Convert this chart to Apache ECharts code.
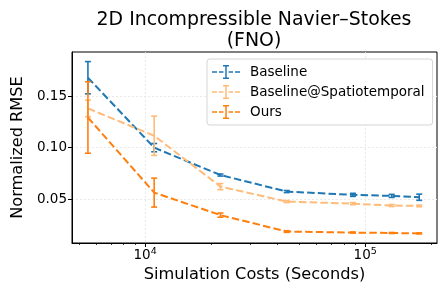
<!DOCTYPE html>
<html>
<head>
<meta charset="utf-8">
<script src="https://cdn.jsdelivr.net/npm/echarts@6/dist/echarts.min.js"></script>
<style>html,body{margin:0;padding:0;background:#fff}#c{width:448px;height:299px}</style>
</head>
<body>
<div id="c"></div>
<script>
// Data
const costs = [5500, 11000, 22000, 44000, 88000, 132000, 176000];
const baselineMean = [0.1677, 0.1000, 0.0735, 0.0575, 0.0543, 0.0533, 0.0520];
const baselineErr  = [0.0156, 0.0040, 0.0010, 0.0010, 0.0015, 0.0015, 0.0030];
const spatioMean   = [0.1380, 0.1115, 0.0623, 0.0478, 0.0458, 0.0440, 0.0436];
const spatioErr    = [0.0080, 0.0190, 0.0030, 0.0010, 0.0010, 0.0010, 0.0008];
const oursMean     = [0.1292, 0.0565, 0.0347, 0.0188, 0.0178, 0.0174, 0.0170];
const oursErr      = [0.0346, 0.0140, 0.0020, 0.0008, 0.0005, 0.0005, 0.0005];
const yTicks = [0.05, 0.10, 0.15];
const xMajorTicks = [10000, 100000];
const xMinorTicks = [5000, 6000, 7000, 8000, 9000, 20000, 30000, 40000, 50000, 60000, 70000, 80000, 90000, 200000];
const seriesNames = ['Baseline', 'Baseline@Spatiotemporal', 'Ours'];
const colors = ['#1f77b4', '#ffbb78', '#ff7f0e'];

const FONT = 'DejaVu Sans';
const chart = echarts.init(document.getElementById('c'), null, {renderer: 'canvas'});

function pairs(m) { return costs.map((x, i) => [x, m[i]]); }
function triples(m, e) { return costs.map((x, i) => [x, m[i], e[i]]); }

function errRender(params, api) {
  const x = api.value(0), y = api.value(1), e = api.value(2);
  const t = api.coord([x, y + e]), b = api.coord([x, y - e]);
  const color = api.visual('color');
  const cw = 3;
  const st = {stroke: color, lineWidth: 1.6};
  return {type: 'group', children: [
    {type: 'line', shape: {x1: t[0], y1: t[1], x2: b[0], y2: b[1]}, style: st},
    {type: 'line', shape: {x1: t[0] - cw, y1: t[1], x2: t[0] + cw, y2: t[1]}, style: st},
    {type: 'line', shape: {x1: b[0] - cw, y1: b[1], x2: b[0] + cw, y2: b[1]}, style: st}
  ]};
}

const means = [baselineMean, spatioMean, oursMean];
const errs = [baselineErr, spatioErr, oursErr];
const series = [];
seriesNames.forEach((name, i) => {
  series.push({
    name: name, type: 'line', data: pairs(means[i]), symbol: 'none',
    lineStyle: {color: colors[i], width: 2, type: [7.5, 3.2]},
    itemStyle: {color: colors[i]}, z: 2 + i * 2, animation: false, silent: true
  });
  series.push({
    name: name + ' err', type: 'custom', data: triples(means[i], errs[i]),
    renderItem: errRender, encode: {x: 0, y: 1},
    itemStyle: {color: colors[i]}, z: 3 + i * 2, animation: false, silent: true
  });
});

const legendIcon = 'path://M0,6.25h5v1.5h-5z M7,6.25h4.5v1.5h-4.5z M16.5,6.25h4.5v1.5h-4.5z M23,6.25h5v1.5h-5z M13.25,0h1.5v14h-1.5z M11,0h6v1.5h-6z M11,12.5h6v1.5h-6z';

const option = {
  animation: false,
  backgroundColor: '#fff',
  grid: {left: 72, right: 11, top: 52, bottom: 56, show: true, borderColor: '#000', borderWidth: 1, backgroundColor: 'transparent'},
  graphic: [{
    type: 'text', x: 254, y: 10,
    style: {text: '2D Incompressible Navier–Stokes\n(FNO)', align: 'center', verticalAlign: 'top',
      fontFamily: FONT, fontSize: 18.9, lineHeight: 21, fill: '#000'}
  }],
  legend: {
    orient: 'vertical', left: 207, top: 59, width: 223,
    data: seriesNames, icon: legendIcon, itemWidth: 28, itemHeight: 14, itemGap: 6,
    padding: [6, 8, 6, 5],
    backgroundColor: 'rgba(255,255,255,0.8)', borderColor: '#d5d5d5', borderWidth: 1, borderRadius: 3,
    textStyle: {fontFamily: FONT, fontSize: 13.5, color: '#000', padding: [0, 0, 0, 5]},
    selectedMode: false
  },
  xAxis: [{
    type: 'log', logBase: 10, min: 4656, max: 212000,
    name: 'Simulation Costs (Seconds)', nameLocation: 'middle', nameGap: 23,
    nameTextStyle: {fontFamily: FONT, fontSize: 16.2, color: '#000'},
    axisLine: {show: true, lineStyle: {color: '#000', width: 1}},
    axisTick: {show: true, customValues: xMajorTicks, length: 4, lineStyle: {color: '#000', width: 1}},
    axisLabel: {
      customValues: xMajorTicks, margin: 4,
      formatter: function (v) { return '{b|10}{s|' + Math.round(Math.log10(v)) + '}'; },
      rich: {
        b: {fontFamily: FONT, fontSize: 13.5, color: '#000'},
        s: {fontFamily: FONT, fontSize: 9.5, color: '#000', verticalAlign: 'top', padding: [0, 0, 6, 0]}
      }
    },
    splitLine: {show: true, lineStyle: {color: '#e4e4e4', width: 0.8, type: [2, 2]}}
  }, {
    type: 'log', logBase: 10, min: 4656, max: 212000, gridIndex: 0, position: 'bottom',
    axisLine: {show: false},
    axisTick: {show: true, customValues: xMinorTicks, length: 2, lineStyle: {color: '#000', width: 0.8}},
    axisLabel: {show: false},
    splitLine: {show: false}
  }],
  yAxis: {
    type: 'value', min: 0.0077, max: 0.1926,
    name: 'Normalized RMSE', nameLocation: 'middle', nameGap: 44,
    nameTextStyle: {fontFamily: FONT, fontSize: 16.2, color: '#000'},
    axisLine: {show: true, lineStyle: {color: '#000', width: 1}},
    axisTick: {show: true, customValues: yTicks, length: 4, lineStyle: {color: '#000', width: 1}},
    axisLabel: {customValues: yTicks, margin: 5, fontFamily: FONT, fontSize: 13.5, color: '#000',
      formatter: function (v) { return v.toFixed(2); }},
    splitLine: {show: true, lineStyle: {color: '#e4e4e4', width: 0.8, type: [2, 2]}}
  },
  series: series
};
chart.setOption(option);
</script>
</body>
</html>
